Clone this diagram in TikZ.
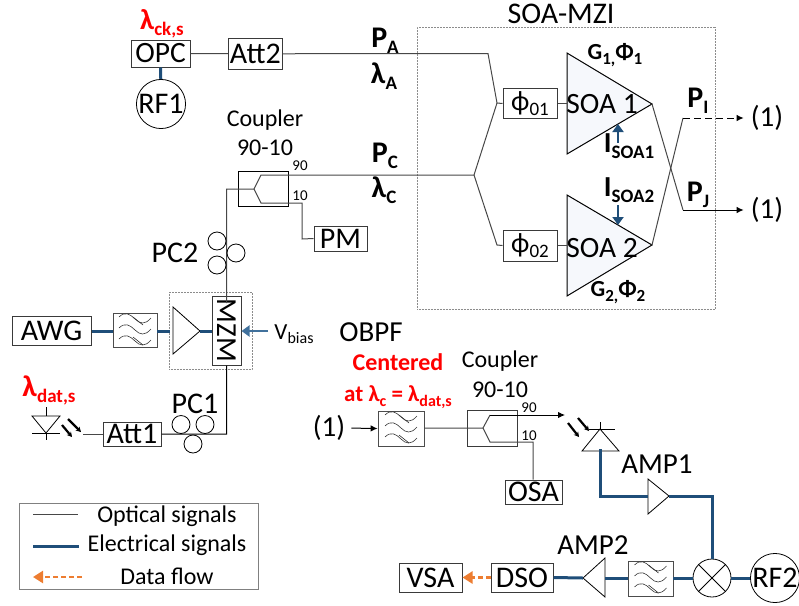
\documentclass[tikz,border=0pt]{standalone}
\usepackage{fontspec}
\setmainfont{Carlito}
\usetikzlibrary{arrows.meta}
\definecolor{elec}{HTML}{1F4E79}
\definecolor{elecl}{HTML}{41719C}
\definecolor{flow}{HTML}{ED7D31}
\definecolor{bord}{HTML}{3A3A3A}
\definecolor{soafill}{HTML}{F6F8FC}
\newcommand{\fs}[1]{\fontsize{#1}{#1}\selectfont}
\newcommand{\bsub}[2][19]{\raisebox{-0.2em}{\fs{#1}\bfseries #2}}
\tikzset{
  x=1pt,y=-1pt,
  opt/.style={draw=black!72,line width=1pt},
  ele/.style={draw=elec,line width=3pt},
  boxn/.style={draw=bord,line width=1pt,inner sep=0pt,align=center},
  txt/.style={inner sep=0pt,align=center},
  redl/.style={inner sep=0pt,text=red},
  amp/.style={draw=black,line width=0.8pt},
  pcirc/.style={draw=black,line width=0.8pt,fill=none,circle,inner sep=0pt,minimum size=18pt},
  dot/.style={draw=black!45,line width=0.5pt,densely dotted},
  tip/.style={-{Latex[length=7pt,width=6.5pt]}},
  bluetip/.style={line width=2.4pt,-{Triangle[length=8pt,width=11pt]}},
  flowline/.style={draw=flow,line width=2.4pt,dash pattern=on 5pt off 3pt,-{Triangle[length=10pt,width=12pt]}}
}
\newcommand{\filt}[2]{%
 \begin{scope}[shift={(#1,#2)},draw=black!80,line width=0.6pt]
  \foreach \d in {-11,0,11}{\draw (-16,\d-2) .. controls (-10,\d-8) and (-5,\d-5) .. (0,\d) .. controls (5,\d+5) and (10,\d+6) .. (16,\d-1);}
  \draw (-2,-13) -- (8,-5); \draw (-2,7) -- (8,15);
 \end{scope}}
\newcommand{\lasar}[4]{\draw[black,line width=2.2pt,-{Stealth[length=5pt,width=5.5pt]}] (#1,#2) -- (#3,#4);}
\begin{document}
\begin{tikzpicture}
\useasboundingbox (0,0) rectangle (799,605);
% dotted frames
\node[dot,minimum width=298pt,minimum height=282pt,inner sep=0pt] (mzi) at (566,168) {};
\node[dot,minimum width=83pt,minimum height=77pt,inner sep=0pt] (modf) at (210.5,330.5) {};
% top branch
\node[boxn,minimum width=59pt,minimum height=27pt,font=\fs{29.5}] (opc) at (160.5,53.5) {OPC};
\node[boxn,minimum width=53.5pt,minimum height=30.5pt,font=\fs{30}] (att2) at (255.3,53.8) {Att2};
\node[draw=black,line width=0.8pt,circle,minimum size=47pt,inner sep=0pt,font=\fs{30}] (rf1) at (161,104) {RF1};
\draw[ele] (opc) -- (rf1);
\draw[opt] (opc) -- (att2);
\node[redl,font=\fs{29}\bfseries] (lck) at (162,23.5) {λ\bsub{ck,s}};
\coordinate (ja) at (488,53.5);
\coordinate (j1) at (497,103);
\coordinate (jc) at (474,175);
\coordinate (j2) at (497,245);
\node[boxn,minimum width=54pt,minimum height=30.5pt,font=\fs{28}] (p1) at (530,103.5) {ϕ\raisebox{-0.18em}{\fs{19}01}};
\node[boxn,minimum width=54pt,minimum height=31pt,font=\fs{28}] (p2) at (530,245.5) {ϕ\raisebox{-0.18em}{\fs{19}02}};
\coordinate (s1w) at (567,103.5);
\coordinate (s2w) at (567,245.5);
\coordinate (s1a) at (652,104);
\coordinate (s2a) at (652,245);
\draw[amp,line width=1pt,fill=soafill] (567,53) -- (s1a) -- (567,154) -- cycle;
\draw[amp,line width=1pt,fill=soafill] (567,195) -- (s2a) -- (567,296) -- cycle;
\node[inner sep=0pt,font=\fs{29.5}] (s1t) at (602,104) {SOA 1};
\node[inner sep=0pt,font=\fs{29.5}] (s2t) at (602,248) {SOA 2};
\draw[opt] (att2) -- (ja) -- (j1) -- (p1.west);
\draw[opt] (p1) -- (s1w);
\draw[opt] (p2) -- (s2w);
\node[inner sep=0pt,font=\fs{30}\bfseries] (pa) at (385,41) {P\bsub{A}};
\node[inner sep=0pt,font=\fs{30}\bfseries] (la) at (384,76) {λ\bsub{A}};
\node[inner sep=0pt,font=\fs{30}\bfseries] (pc) at (385,156) {P\bsub{C}};
\node[inner sep=0pt,font=\fs{30}\bfseries] (lc) at (384,190) {λ\bsub{C}};
\node[txt,font=\fs{30}] (mzit) at (561,14) {SOA-MZI};
\node[txt,font=\fs{23}\bfseries] (g1) at (615,55) {G\bsub[17]{1,}Φ\bsub[17]{1}};
\node[txt,font=\fs{23}\bfseries] (g2) at (618,292) {G\bsub[17]{2,}Φ\bsub[17]{2}};
\node[txt,font=\fs{29}\bfseries] (i1) at (629,146) {I\bsub{SOA1}};
\node[txt,font=\fs{29}\bfseries] (i2) at (629,190) {I\bsub{SOA2}};
\coordinate (i1a) at (618,124); \coordinate (i1b) at (618,143);
\coordinate (i2a) at (618,225); \coordinate (i2b) at (618,205);
\draw[draw=elec,bluetip] (i1b) -- (i1a);
\draw[draw=elec,bluetip] (i2b) -- (i2a);
% outputs
\node[inner sep=0pt,font=\fs{29}] (o1) at (767,118) {(1)};
\node[inner sep=0pt,font=\fs{29}] (o2) at (767,210) {(1)};
\coordinate (bi) at (683,118);
\coordinate (bj) at (683,210);
\draw[opt] (s1a) -- (bj);
\draw[opt,draw=black,tip,shorten >=7pt] (bj) -- (o2.west);
\draw[opt] (s2a) -- (bi);
\draw[opt,draw=black,dash pattern=on 7pt off 4pt,tip,shorten >=7pt] (bi) -- (o1.west);
\node[inner sep=0pt,font=\fs{30}\bfseries] (pi) at (698,101) {P\bsub{I}};
\node[inner sep=0pt,font=\fs{30}\bfseries] (pj) at (698,195) {P\bsub{J}};
% coupler 1
\node[draw=black,line width=0.8pt,minimum width=50pt,minimum height=35pt,inner sep=0pt] (c1) at (263,188.5) {};
\node[txt,font=\fs{24}] (c1t) at (265,120) {Coupler};
\node[txt,font=\fs{24}] (c1u) at (265,148) {90-10};
\node[inner sep=0pt,font=\fs{15}] (n90) at (300,166) {90};
\node[inner sep=0pt,font=\fs{15}] (n10) at (300,196) {10};
\coordinate (cin) at (254,189);
\coordinate (cu) at (261,175);
\coordinate (cd) at (261,203);
\coordinate (ci) at (226.7,189);
\coordinate (cpm) at (302,203);
\coordinate (cpm2) at (302,239);
\node[boxn,minimum width=53pt,minimum height=25pt,font=\fs{30}] (pm) at (340.5,238.5) {PM};
\node[boxn,minimum width=29pt,minimum height=69pt] (mzm) at (226.5,330.5) {\rotatebox{-90}{\fs{29}MZM}};
\coordinate (mt) at (226.7,303);
\coordinate (mb) at (226.7,434);
\draw[opt] (jc) -- (cu) -- (cin) -- (ci) -- (mt);
\draw[opt] (cin) -- (cd) -- (cpm) -- (cpm2) -- (pm.west);
\draw[opt] (jc) -- (j1);
\draw[opt] (jc) -- (j2) -- (p2.west);
\node[pcirc] (pc2a) at (217,241) {};
\node[pcirc] (pc2b) at (236,253) {};
\node[pcirc] (pc2c) at (217,265) {};
\node[txt,font=\fs{30}] (pc2t) at (175,253) {PC2};
% modulator
\node[boxn,minimum width=79pt,minimum height=29pt,font=\fs{30}] (awg) at (51.5,330.5) {AWG};
\node[draw=black!70,line width=0.8pt,minimum width=44pt,minimum height=34pt,inner sep=0pt] (f1) at (135,330) {};
\filt{135}{330}
\coordinate (t0) at (173,331);
\coordinate (t1) at (200,331);
\draw[amp] (173,307) -- (t1) -- (173,354) -- cycle;
\draw[ele] (awg.east|-t0) -- (f1.west|-t0);
\draw[ele] (f1.east|-t0) -- (170,331);
\draw[ele] (t1) -- (mzm.west|-t1);
\coordinate (vb) at (268,331);
\draw[draw=elecl,bluetip] (vb) -- (mzm.east|-vb);
\node[inner sep=0pt,font=\fs{23}] (vbt) at (294,334) {V\raisebox{-0.2em}{\fs{16}bias}};
% PC1
\node[boxn,minimum width=58pt,minimum height=24pt,font=\fs{30}] (att1) at (132,434) {Att1};
\draw[opt,draw=black] (mzm.south) -- (mb) -- (att1.east);
\node[pcirc] (pc1a) at (181,424.5) {};
\node[pcirc] (pc1b) at (205,424.5) {};
\node[pcirc] (pc1c) at (193,444) {};
\node[txt,font=\fs{30}] (pc1t) at (195,404) {PC1};
\node[redl,font=\fs{30}\bfseries] (ld) at (49,390) {λ\bsub{dat,s}};
\coordinate (lfree) at (83,434);
\draw[opt] (lfree) -- (att1.west);
% laser diode
\draw[amp] (32,416) -- (60,416) -- (46,433) -- cycle;
\draw[amp] (46,407) -- (46,416);
\draw[amp] (46,433) -- (46,440);
\draw[amp] (32,433) -- (60,433);
\lasar{62}{425}{72}{437}
\lasar{68}{419}{81}{432}
% receiver
\node[inner sep=0pt,font=\fs{29}] (in1) at (329,428) {(1)};
\node[draw=black!70,line width=0.8pt,minimum width=46pt,minimum height=35pt,inner sep=0pt] (f2) at (401,428.5) {};
\filt{401}{428}
\draw[opt,draw=black,tip,shorten <=6pt] (in1.east) -- (f2.west);
\node[txt,font=\fs{29}] (obpf) at (371,332) {OBPF};
\node[redl,font=\fs{24}\bfseries] (cent) at (398,362) {Centered};
\node[redl,font=\fs{23}\bfseries] (cat) at (398,397) {at λ\raisebox{-0.2em}{\fs{16}c} = λ\bsub[16]{dat,s}};
\node[draw=bord,line width=1pt,minimum width=50pt,minimum height=36pt,inner sep=0pt] (c2) at (492,428) {};
\node[txt,font=\fs{24}] (c2t) at (500,361) {Coupler};
\node[txt,font=\fs{24}] (c2u) at (500,390) {90-10};
\node[inner sep=0pt,font=\fs{15}] (m90) at (529,408) {90};
\node[inner sep=0pt,font=\fs{15}] (m10) at (529,436) {10};
\coordinate (din) at (483,428);
\coordinate (du) at (490,415);
\coordinate (dd) at (490,442);
\coordinate (dr) at (533,442);
\coordinate (dout) at (565,415);
\node[boxn,minimum width=57pt,minimum height=24pt,font=\fs{30}] (osa) at (533.5,492) {OSA};
\draw[opt] (f2.east|-din) -- (din) -- (du);
\draw[opt,draw=black,tip] (du) -- (dout);
\draw[opt] (din) -- (dd) -- (dr) -- (osa.north-|dr);
% photodiode
\coordinate (pdb) at (600,449);
\draw[amp] (600,429) -- (582,451) -- (619,451) -- cycle;
\draw[amp] (589,429) -- (615,429);
\draw[amp] (600,422) -- (600,429);
\lasar{568}{423}{579}{437}
\lasar{578}{418}{589}{431}
% AMP1
\coordinate (a1w) at (648,496);
\coordinate (a1e) at (669,496);
\coordinate (pdc) at (600,496);
\coordinate (mxc) at (712,496);
\draw[amp] (648,479) -- (a1e) -- (648,514) -- cycle;
\node[draw=black,line width=0.8pt,circle,minimum size=38pt,inner sep=0pt] (mx) at (712,578) {};
\draw[amp] (mx.north west) -- (mx.south east);
\draw[amp] (mx.north east) -- (mx.south west);
\draw[ele] (pdb) -- (pdc) -- (a1w);
\draw[ele] (a1e) -- (mxc) -- (mx.north);
\node[txt,font=\fs{29}] (a1t) at (657,464) {AMP1};
\node[txt,font=\fs{29}] (a2t) at (593,545) {AMP2};
\node[draw=black,line width=0.8pt,circle,minimum size=48pt,inner sep=0pt,font=\fs{30}] (rf2) at (775,578) {RF2};
\draw[ele] (mx) -- (rf2);
\node[draw=black!70,line width=0.8pt,minimum width=45pt,minimum height=35pt,inner sep=0pt] (f3) at (650.5,578.5) {};
\filt{650.5}{578}
\draw[ele] (mx.west) -- (f3.east|-mx);
\coordinate (a2w) at (583,578);
\coordinate (a2e) at (605,578);
\draw[amp] (a2w) -- (605,558) -- (605,597) -- cycle;
\draw[ele] (f3.west|-a2e) -- (a2e);
\node[boxn,minimum width=62pt,minimum height=29pt,font=\fs{30}] (dso) at (522,577.5) {DSO};
\node[boxn,minimum width=63pt,minimum height=29pt,font=\fs{30}] (vsa) at (430.5,577.5) {VSA};
\draw[ele] (dso.east) -- (a2w);
\draw[flowline] (dso) -- (vsa);
% legend
\node[draw=black!50,line width=1pt,minimum width=239pt,minimum height=86pt,inner sep=0pt] (leg) at (138.5,546) {};
\coordinate (l1a) at (33,514); \coordinate (l1b) at (78,514);
\coordinate (l2a) at (33,546); \coordinate (l2b) at (79,546);
\coordinate (l3a) at (33,577); \coordinate (l3b) at (82,577);
\draw[opt] (l1a) -- (l1b);
\draw[ele] (l2a) -- (l2b);
\draw[flowline] (l3b) -- (l3a);
\node[txt,font=\fs{24}] (l1t) at (167,516) {Optical signals};
\node[txt,font=\fs{24}] (l2t) at (167,545) {Electrical signals};
\node[txt,font=\fs{24}] (l3t) at (167,576) {Data flow};
\end{tikzpicture}
\end{document}
